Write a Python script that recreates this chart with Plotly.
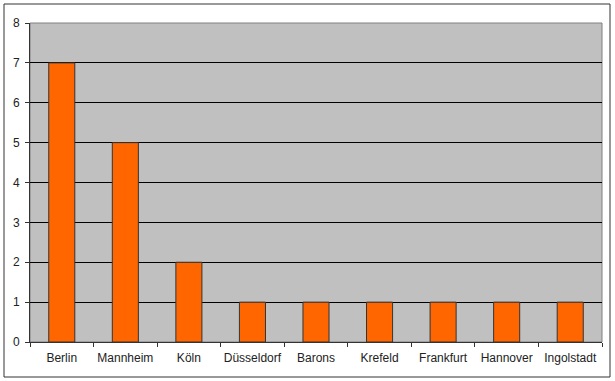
import plotly.graph_objects as go

cities = ["Berlin", "Mannheim", "Köln", "Düsseldorf", "Barons", "Krefeld", "Frankfurt", "Hannover", "Ingolstadt"]
values = [7, 5, 2, 1, 1, 1, 1, 1, 1]

L, R, T, B = 30, 13, 23, 39
W, H = 615, 381
pw, ph = W - L - R, H - T - B

fig = go.Figure(go.Bar(
    x=cities, y=values,
    marker=dict(color="#FF6600", line=dict(color="#333333", width=1)),
))

def px2x(p):
    return (p - L) / pw

def py2y(p):
    return (H - B - p) / ph

fig.update_layout(
    width=W, height=H,
    margin=dict(l=L, r=R, t=T, b=B),
    paper_bgcolor="white",
    plot_bgcolor="#C0C0C0",
    bargap=0.59,
    showlegend=False,
    font=dict(family="Liberation Sans, Arial", size=12, color="#222222"),
    xaxis=dict(
        showline=True, linecolor="#333333", linewidth=1, mirror=False,
        ticks="outside", tickson="boundaries", ticklen=4, tickcolor="#333333",
        showgrid=False, ticklabelstandoff=5, tickangle=0, automargin=False,
    ),
    yaxis=dict(
        range=[0, 8], dtick=1,
        showline=True, linecolor="#333333", linewidth=1,
        ticks="outside", ticklen=4, tickcolor="#333333",
        showgrid=True, gridcolor="#000000", gridwidth=1,
        zeroline=False, ticklabelstandoff=3, automargin=False,
    ),
    shapes=[
        dict(type="rect", xref="paper", yref="paper", x0=0, x1=1, y0=0, y1=1,
             line=dict(color="#808080", width=1), layer="below"),
        dict(type="rect", xref="paper", yref="paper",
             x0=px2x(4), x1=px2x(610), y0=py2y(377), y1=py2y(4),
             line=dict(color="#333333", width=1)),
    ],
)

fig.write_html("out.html")
